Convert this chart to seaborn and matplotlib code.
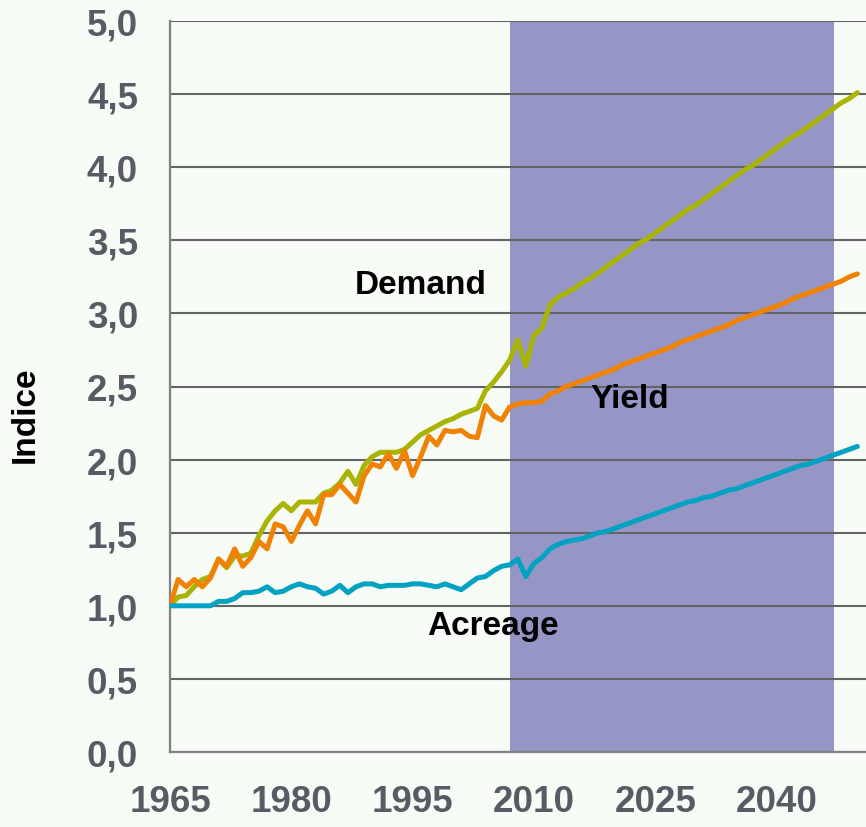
import matplotlib
matplotlib.use("Agg")
import matplotlib.pyplot as plt
import seaborn as sns
import numpy as np
import pandas as pd

years = list(range(1965, 2051))

demand = [1.00, 1.06, 1.07, 1.13, 1.18, 1.20, 1.32, 1.26, 1.34, 1.34,
          1.36, 1.48, 1.58, 1.65, 1.70, 1.65, 1.71, 1.71, 1.71, 1.77,
          1.79, 1.84, 1.92, 1.83, 1.96, 2.02, 2.05, 2.05, 2.05, 2.07,
          2.12, 2.17, 2.20, 2.23, 2.26, 2.28, 2.31, 2.33, 2.35, 2.47,
          2.53, 2.60, 2.68, 2.82, 2.64, 2.85, 2.90, 3.06, 3.11, 3.14,
          3.17, 3.21, 3.24, 3.28, 3.32, 3.36, 3.40, 3.44, 3.48, 3.51,
          3.55, 3.59, 3.63, 3.67, 3.71, 3.74, 3.78, 3.82, 3.86, 3.90,
          3.94, 3.98, 4.01, 4.05, 4.09, 4.13, 4.17, 4.21, 4.24, 4.28,
          4.32, 4.36, 4.40, 4.44, 4.47, 4.51]

yield_ = [1.00, 1.18, 1.13, 1.18, 1.13, 1.19, 1.32, 1.27, 1.39, 1.27,
          1.33, 1.44, 1.39, 1.56, 1.54, 1.44, 1.55, 1.65, 1.56, 1.76,
          1.76, 1.83, 1.77, 1.71, 1.89, 1.97, 1.95, 2.04, 1.94, 2.06,
          1.89, 2.02, 2.16, 2.10, 2.20, 2.19, 2.20, 2.16, 2.15, 2.37,
          2.30, 2.27, 2.36, 2.38, 2.39, 2.39, 2.40, 2.45, 2.47, 2.50,
          2.52, 2.54, 2.56, 2.58, 2.60, 2.62, 2.65, 2.67, 2.69, 2.71,
          2.73, 2.75, 2.77, 2.80, 2.82, 2.84, 2.86, 2.88, 2.90, 2.92,
          2.95, 2.97, 2.99, 3.01, 3.03, 3.05, 3.07, 3.10, 3.12, 3.14,
          3.16, 3.18, 3.20, 3.22, 3.25, 3.27]

acreage = [1.00, 1.00, 1.00, 1.00, 1.00, 1.00, 1.03, 1.03, 1.05, 1.09,
           1.09, 1.10, 1.13, 1.09, 1.10, 1.13, 1.15, 1.13, 1.12, 1.08,
           1.10, 1.14, 1.09, 1.13, 1.15, 1.15, 1.13, 1.14, 1.14, 1.14,
           1.15, 1.15, 1.14, 1.13, 1.15, 1.13, 1.11, 1.15, 1.19, 1.20,
           1.24, 1.27, 1.28, 1.32, 1.20, 1.29, 1.33, 1.39, 1.42, 1.44,
           1.45, 1.46, 1.48, 1.50, 1.51, 1.53, 1.55, 1.57, 1.59, 1.61,
           1.63, 1.65, 1.67, 1.69, 1.71, 1.72, 1.74, 1.75, 1.77, 1.79,
           1.80, 1.82, 1.84, 1.86, 1.88, 1.90, 1.92, 1.94, 1.96, 1.97,
           1.99, 2.01, 2.03, 2.05, 2.07, 2.09]

series_names = ["Demand", "Yield", "Acreage"]
series_colors = {"Demand": "#a8b400", "Yield": "#f08200", "Acreage": "#00a2c2"}
projection_span = (2007.1, 2047.1)
x_ticks = [1965, 1980, 1995, 2010, 2025, 2040]
y_ticks = [0.0, 0.5, 1.0, 1.5, 2.0, 2.5, 3.0, 3.5, 4.0, 4.5, 5.0]
y_tick_labels = ["0,0", "0,5", "1,0", "1,5", "2,0", "2,5", "3,0", "3,5", "4,0", "4,5", "5,0"]
labels_pos = {"Demand": (1996.0, 3.14), "Yield": (2021.8, 2.36), "Acreage": (2004.9, 0.807)}

df = pd.DataFrame({
    "year": years * 3,
    "value": demand + yield_ + acreage,
    "series": ["Demand"] * len(years) + ["Yield"] * len(years) + ["Acreage"] * len(years),
})

sns.set_theme(style="white")
plt.rcParams["font.family"] = ["Liberation Sans", "DejaVu Sans"]

bg = "#f8fcf6"
fig = plt.figure(figsize=(8.66, 8.28), dpi=100, facecolor=bg)
ax = fig.add_axes([170 / 866, 75 / 828, (866 - 170) / 866, (753 - 22) / 828])
ax.set_facecolor(bg)

ax.axvspan(projection_span[0], projection_span[1], color="#9696c6", zorder=0.2, lw=0)

sns.lineplot(data=df, x="year", y="value", hue="series", hue_order=series_names,
             palette=series_colors, linewidth=3.6, legend=False, ax=ax, zorder=3)

ax.set_xlim(1965, 1965 + (866 - 170) / 8.087)
ax.set_ylim(0, 5.0)

ax.set_axisbelow(True)
ax.yaxis.grid(True, color="#646464", linewidth=1.5, zorder=0.5)
ax.xaxis.grid(False)

for s in ["top", "right"]:
    ax.spines[s].set_visible(False)
for s in ["left", "bottom"]:
    ax.spines[s].set_color("#808080")
    ax.spines[s].set_linewidth(1.6)

ax.set_xticks(x_ticks)
ax.set_xticklabels([str(t) for t in x_ticks])
ax.set_yticks(y_ticks)
ax.set_yticklabels(y_tick_labels)
ax.tick_params(axis="both", direction="out", length=9, width=1.6, color="#808080",
               labelsize=26.5, labelcolor="#585b63", pad=14)
for lab in ax.get_xticklabels() + ax.get_yticklabels():
    lab.set_fontweight("bold")

ax.set_xlabel("")
ax.set_ylabel("Indice", fontsize=24, fontweight="bold", color="black")
ax.yaxis.set_label_coords((25 - 170) / 696, (753 - 415) / 731)
ax.yaxis.label.set_verticalalignment("center")

for name, (lx, ly) in labels_pos.items():
    ax.text(lx, ly, name, ha="center", va="baseline", fontsize=24,
            fontweight="bold", color="black", zorder=5)

fig.savefig("out.png", dpi=100, facecolor=bg)
